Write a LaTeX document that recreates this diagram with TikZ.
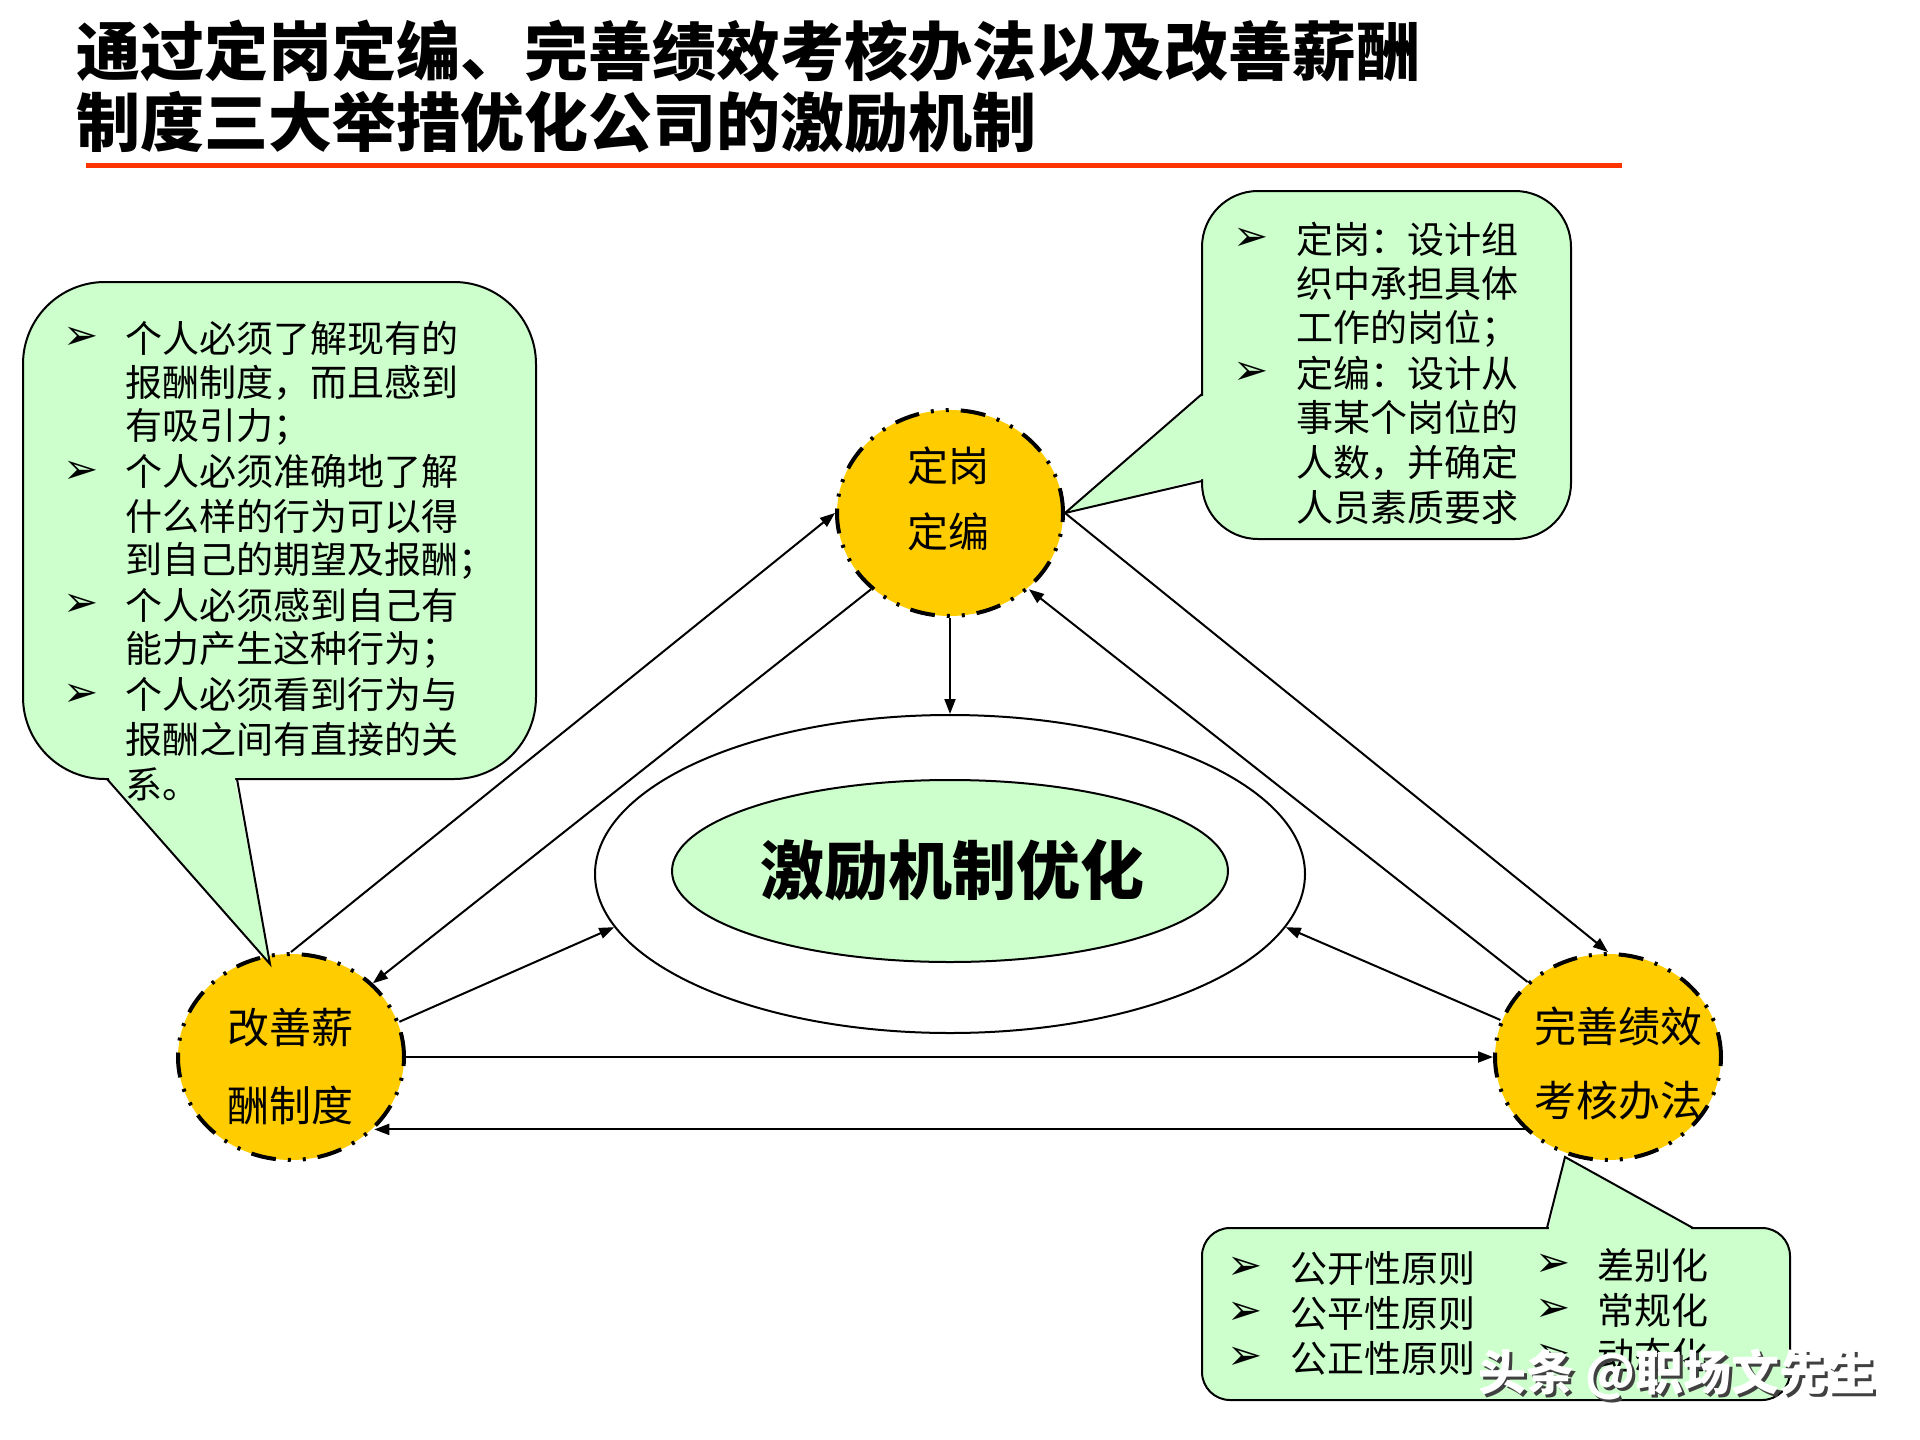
\documentclass[tikz,border=0pt]{standalone}
\usepackage{fontspec}
\newfontfamily\cjk{Noto Sans CJK SC}
\newfontfamily\sym{DejaVu Sans}
\usetikzlibrary{shapes.geometric,arrows.meta}
\definecolor{gold}{HTML}{FFCC00}
\definecolor{mint}{HTML}{CCFFCC}
\definecolor{redline}{HTML}{FF3300}
\tikzset{
  circ/.style={ellipse, draw=black, fill=gold, line width=4pt,
    dash pattern=on 25pt off 12pt on 3pt off 12pt on 3pt off 12pt,
    minimum width=226pt, minimum height=206pt, inner sep=0pt},
  arr/.style={line width=2pt, -{Triangle[length=15pt,width=11pt]}},
  cbox/.style={fill=mint, draw=black, line width=2pt},
  ttl/.style={font=\cjk\bfseries\fontsize{64}{64}\selectfont, inner sep=0pt, anchor=west},
  body/.style={font=\cjk\fontsize{37}{37}\selectfont, inner sep=0pt, anchor=west},
  bul/.style={font=\sym\bfseries\fontsize{42}{42}\selectfont, inner sep=0pt},
  ctext/.style={font=\cjk\fontsize{42}{42}\selectfont, inner sep=0pt},
  wmark/.style={font=\cjk\bfseries\fontsize{48}{48}\selectfont, inner sep=0pt, anchor=west},
}
\begin{document}
\begin{tikzpicture}[x=1pt,y=-1pt]
\useasboundingbox[fill=white] (0,0) rectangle (1920,1440);

% title
\node[ttl] (t1) at (76,51) {通过定岗定编、完善绩效考核办法以及改善薪酬};
\node[ttl] (t2) at (76,122) {制度三大举措优化公司的激励机制};
\draw[redline, line width=5pt] (86,165) -- (1622,165);

% central ellipses
\node[ellipse, draw=black, fill=white, line width=2pt, minimum width=710pt, minimum height=318pt, inner sep=0pt] (oe) at (950,874) {};
\node[ellipse, draw=black, fill=mint, line width=2pt, minimum width=556pt, minimum height=182pt, inner sep=0pt] (ie) at (950,871) {};
\node[font=\cjk\bfseries\fontsize{64}{64}\selectfont, inner sep=0pt] (iet) at (952,870) {激励机制优化};

% three circles
\node[circ] (dg) at (950,513) {};
\node[circ] (gx) at (291,1057) {};
\node[circ] (ws) at (1608,1057) {};

% connectors
\draw[arr] (dg.south) -- (oe.north);
\draw[arr] (gx.north) -- (dg.west);
\draw[arr] (dg.224) -- (gx.42);
\draw[arr] (dg.east) -- (ws.north);
\draw[arr] (ws.137) -- (dg.316);
\draw[arr] (gx.18) -- (oe.189);
\draw[arr] (ws.161) -- (oe.351);
\draw[arr] (gx.east) -- (ws.west);
\draw[arr] (ws.221) -- (gx.319);

% circle texts
\node[ctext, font=\cjk\fontsize{41}{41}\selectfont] (dg1) at (948,466) {定岗};
\node[ctext, font=\cjk\fontsize{41}{41}\selectfont] (dg2) at (948,532) {定编};
\node[ctext] (gx1) at (290,1028) {改善薪};
\node[ctext] (gx2) at (290,1105) {酬制度};
\node[ctext] (ws1) at (1618,1026) {完善绩效};
\node[ctext] (ws2) at (1618,1101) {考核办法};

% left callout
\filldraw[cbox, rounded corners=82pt] (23,282) rectangle (536,779);
\fill[mint] (109,774) -- (109,779) -- (270,964) -- (235,779) -- (235,774) -- cycle;
\draw[line width=2pt, line join=miter] (107,779) -- (270,964) -- (237,779);
\foreach \t [count=\i] in {个人必须了解现有的,报酬制度，而且感到,有吸引力；,个人必须准确地了解,什么样的行为可以得,到自己的期望及报酬；,个人必须感到自己有,能力产生这种行为；,个人必须看到行为与,报酬之间有直接的关,系。}
  \node[body] (L\i) at (125,{338+44.6*(\i-1)}) {\t};
\foreach \i/\n in {1/1,4/2,7/3,9/4}
  \node[bul] (LB\n) at (81,{338+44.6*(\i-1)}) {➢};

% top-right callout
\filldraw[cbox, rounded corners=56pt] (1202,191) rectangle (1571,539);
\fill[mint] (1206,396) -- (1202,396) -- (dg.east) -- (1202,479) -- (1206,479) -- cycle;
\draw[line width=2pt] (1202,394) -- (dg.east) -- (1202,481);
\foreach \t [count=\i] in {定岗：设计组,织中承担具体,工作的岗位；,定编：设计从,事某个岗位的,人数，并确定,人员素质要求}
  \node[body] (R\i) at (1296,{239+44.7*(\i-1)}) {\t};
\node[bul] (RB1) at (1251,239) {➢};
\node[bul] (RB2) at (1251,373) {➢};

% bottom-right callout
\filldraw[cbox, rounded corners=28pt] (1202,1228) rectangle (1790,1400);
\fill[mint] (1549,1232) -- (1549,1228) -- (1565,1157) -- (1691,1228) -- (1691,1232) -- cycle;
\draw[line width=2pt] (1547,1228) -- (1565,1157) -- (1693,1228);
\foreach \t [count=\i] in {公开性原则,公平性原则,公正性原则}
  \node[body] (B\i) at (1290,{1268+45*(\i-1)}) {\t};
\foreach \t [count=\i] in {差别化,常规化,动态化}
  \node[body] (C\i) at (1597,{1265+45*(\i-1)}) {\t};
\foreach \i in {1,2,3} {
  \node[bul] (BB\i) at (1245,{1268+45*(\i-1)}) {➢};
  \node[bul] (CB\i) at (1553,{1265+45*(\i-1)}) {➢};
}

% watermark
\node[wmark, text=black!75] (wm0) at (1481,1377) {头条 @职场文先生};
\node[wmark, text=white] (wm) at (1478,1374) {头条 @职场文先生};
\end{tikzpicture}
\end{document}
